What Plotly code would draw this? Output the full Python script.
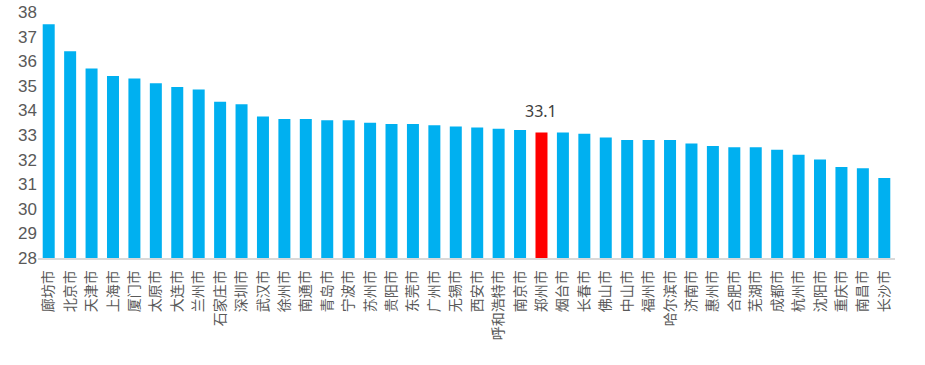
import plotly.graph_objects as go

cities = ["廊坊市", "北京市", "天津市", "上海市", "厦门市", "太原市", "大连市", "兰州市", "石家庄市", "深圳市",
          "武汉市", "徐州市", "南通市", "青岛市", "宁波市", "苏州市", "贵阳市", "东莞市", "广州市", "无锡市",
          "西安市", "呼和浩特市", "南京市", "郑州市", "烟台市", "长春市", "佛山市", "中山市", "福州市", "哈尔滨市",
          "济南市", "惠州市", "合肥市", "芜湖市", "成都市", "杭州市", "沈阳市", "重庆市", "南昌市", "长沙市"]
values = [37.5, 36.4, 35.7, 35.4, 35.3, 35.1, 34.95, 34.85, 34.35, 34.25,
          33.75, 33.65, 33.65, 33.6, 33.6, 33.5, 33.45, 33.45, 33.4, 33.35,
          33.3, 33.25, 33.2, 33.1, 33.1, 33.05, 32.9, 32.8, 32.8, 32.8,
          32.65, 32.55, 32.5, 32.5, 32.4, 32.2, 32.0, 31.7, 31.65, 31.25]
highlight_city = "郑州市"
highlight_label = "33.1"
y_ticks = list(range(28, 39))

colors = ["#FF0000" if c == highlight_city else "#00B0F0" for c in cities]

fig = go.Figure(go.Bar(x=cities, y=values, marker=dict(color=colors, line_width=0)))

hv = values[cities.index(highlight_city)]
fig.add_annotation(x=highlight_city, y=hv, text=highlight_label, showarrow=False,
                   yanchor="bottom", yshift=9,
                   font=dict(family="Noto Sans, Liberation Sans, sans-serif", size=16, color="#404040"))

fig.update_layout(
    width=925, height=365,
    margin=dict(l=38, r=30, t=12, b=107, pad=0, autoexpand=False),
    paper_bgcolor="white", plot_bgcolor="white",
    bargap=0.44,
    showlegend=False,
)
fig.update_xaxes(
    tickangle=-90, automargin=False, ticklabelstandoff=5,
    tickfont=dict(family="Noto Sans CJK SC", size=14, color="#595959"),
    showline=True, linecolor="#D9D9D9", linewidth=1.5,
    ticks="", showgrid=False,
    range=[-0.5, len(cities) - 0.5],
)
fig.update_yaxes(
    range=[28, 38], tickvals=y_ticks, automargin=False,
    tickfont=dict(family="Liberation Sans, Noto Sans, sans-serif", size=17, color="#595959"),
    showgrid=False, zeroline=False, showline=False, ticks="",
)

fig.write_html("out.html", config={"displayModeBar": False},
               post_script="document.body.style.margin='0';document.body.style.overflow='hidden';")
